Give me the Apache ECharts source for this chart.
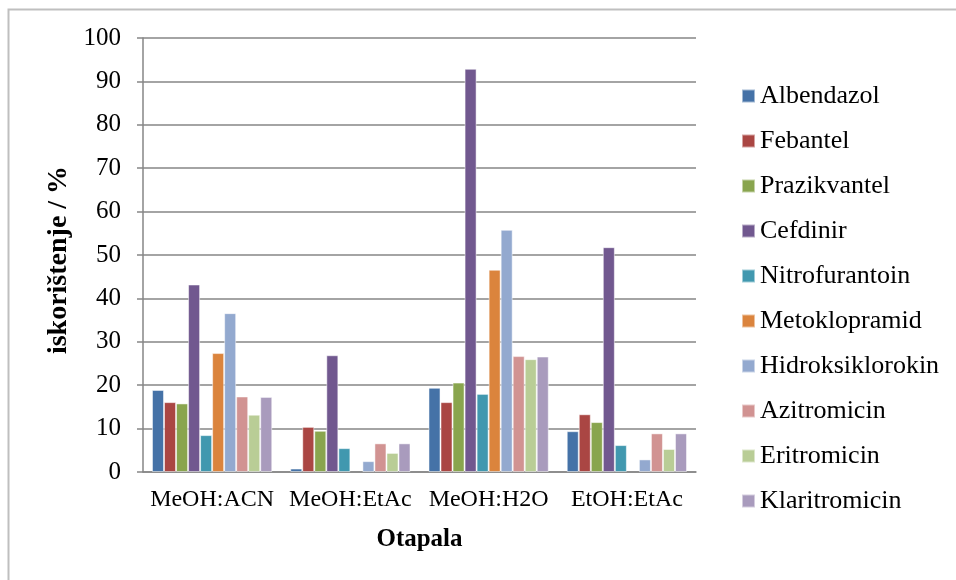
<!DOCTYPE html>
<html>
<head>
<meta charset="utf-8">
<script src="https://cdn.jsdelivr.net/npm/echarts@6/dist/echarts.min.js"></script>
<style>html,body{margin:0;padding:0;background:#fff}#c{width:956px;height:580px}</style>
</head>
<body>
<div id="c"></div>
<script>
const categories = ['MeOH:ACN', 'MeOH:EtAc', 'MeOH:H2O', 'EtOH:EtAc'];
const seriesNames = ['Albendazol','Febantel','Prazikvantel','Cefdinir','Nitrofurantoin','Metoklopramid','Hidroksiklorokin','Azitromicin','Eritromicin','Klaritromicin'];
const albendazol = [18.9, 0.8, 19.4, 9.4];
const febantel = [16.1, 10.4, 16.1, 13.3];
const prazikvantel = [15.8, 9.5, 20.6, 11.5];
const cefdinir = [43.2, 26.9, 92.9, 51.8];
const nitrofurantoin = [8.5, 5.5, 18.0, 6.2];
const metoklopramid = [27.4, null, 46.6, null];
const hidroksiklorokin = [36.6, 2.5, 55.8, 2.9];
const azitromicin = [17.4, 6.6, 26.7, 8.9];
const eritromicin = [13.2, 4.4, 26.0, 5.3];
const klaritromicin = [17.3, 6.6, 26.6, 8.9];
const yTicks = [0,10,20,30,40,50,60,70,80,90,100];
const values = [albendazol,febantel,prazikvantel,cefdinir,nitrofurantoin,metoklopramid,hidroksiklorokin,azitromicin,eritromicin,klaritromicin];
const colors = ['#4572A7','#AA4643','#89A54E','#71588F','#4198AF','#DB843D','#93A9CF','#D19392','#B9CD96','#A99BBD'];
const font = '"Liberation Serif", "Times New Roman", serif';

const chart = echarts.init(document.getElementById('c'), null, {renderer: 'canvas'});
chart.setOption({
  animation: false,
  color: colors,
  graphic: [{
    type: 'rect', shape: {x: 8.5, y: 9.5, width: 1000, height: 700},
    style: {fill: 'none', stroke: '#BFBFBF', lineWidth: 2}, silent: true, z: -1
  }, {
    type: 'text', x: 59, y: 260, rotation: Math.PI / 2,
    style: {text: 'iskorištenje / %', fontFamily: font, fontSize: 28, fontWeight: 'bold', fill: '#000', align: 'center', verticalAlign: 'middle'},
    silent: true
  }],
  grid: {left: 143, right: 260, top: 38, bottom: 108},
  legend: {
    orient: 'vertical', left: 736, top: 78,
    itemWidth: 13, itemHeight: 13, itemGap: 19,
    icon: 'rect',
    textStyle: {fontFamily: font, fontSize: 26, lineHeight: 26, color: '#000'},
    data: seriesNames
  },
  xAxis: {
    type: 'category', data: categories,
    name: 'Otapala', nameLocation: 'middle', nameGap: 55,
    nameTextStyle: {fontFamily: font, fontSize: 25, fontWeight: 'bold', color: '#000'},
    axisLine: {lineStyle: {color: '#868686', width: 1.5}},
    axisTick: {length: 6, lineStyle: {color: '#868686', width: 1.5}},
    axisLabel: {fontFamily: font, fontSize: 24, color: '#000', margin: 16, interval: 0}
  },
  yAxis: {
    type: 'value', min: yTicks[0], max: yTicks[yTicks.length-1], interval: 10,
    axisLine: {show: true, lineStyle: {color: '#868686', width: 1.5}},
    axisTick: {show: true, length: 6, lineStyle: {color: '#868686', width: 1.5}},
    axisLabel: {fontFamily: font, fontSize: 25, color: '#000', margin: 22},
    splitLine: {lineStyle: {color: '#868686', width: 1.5}}
  },
  series: seriesNames.map((n, i) => ({
    name: n, type: 'bar', data: values[i],
    barGap: '0%', barCategoryGap: '13%',
    itemStyle: {borderColor: 'rgba(255,255,255,0.5)', borderWidth: 1}
  }))
});
</script>
</body>
</html>
